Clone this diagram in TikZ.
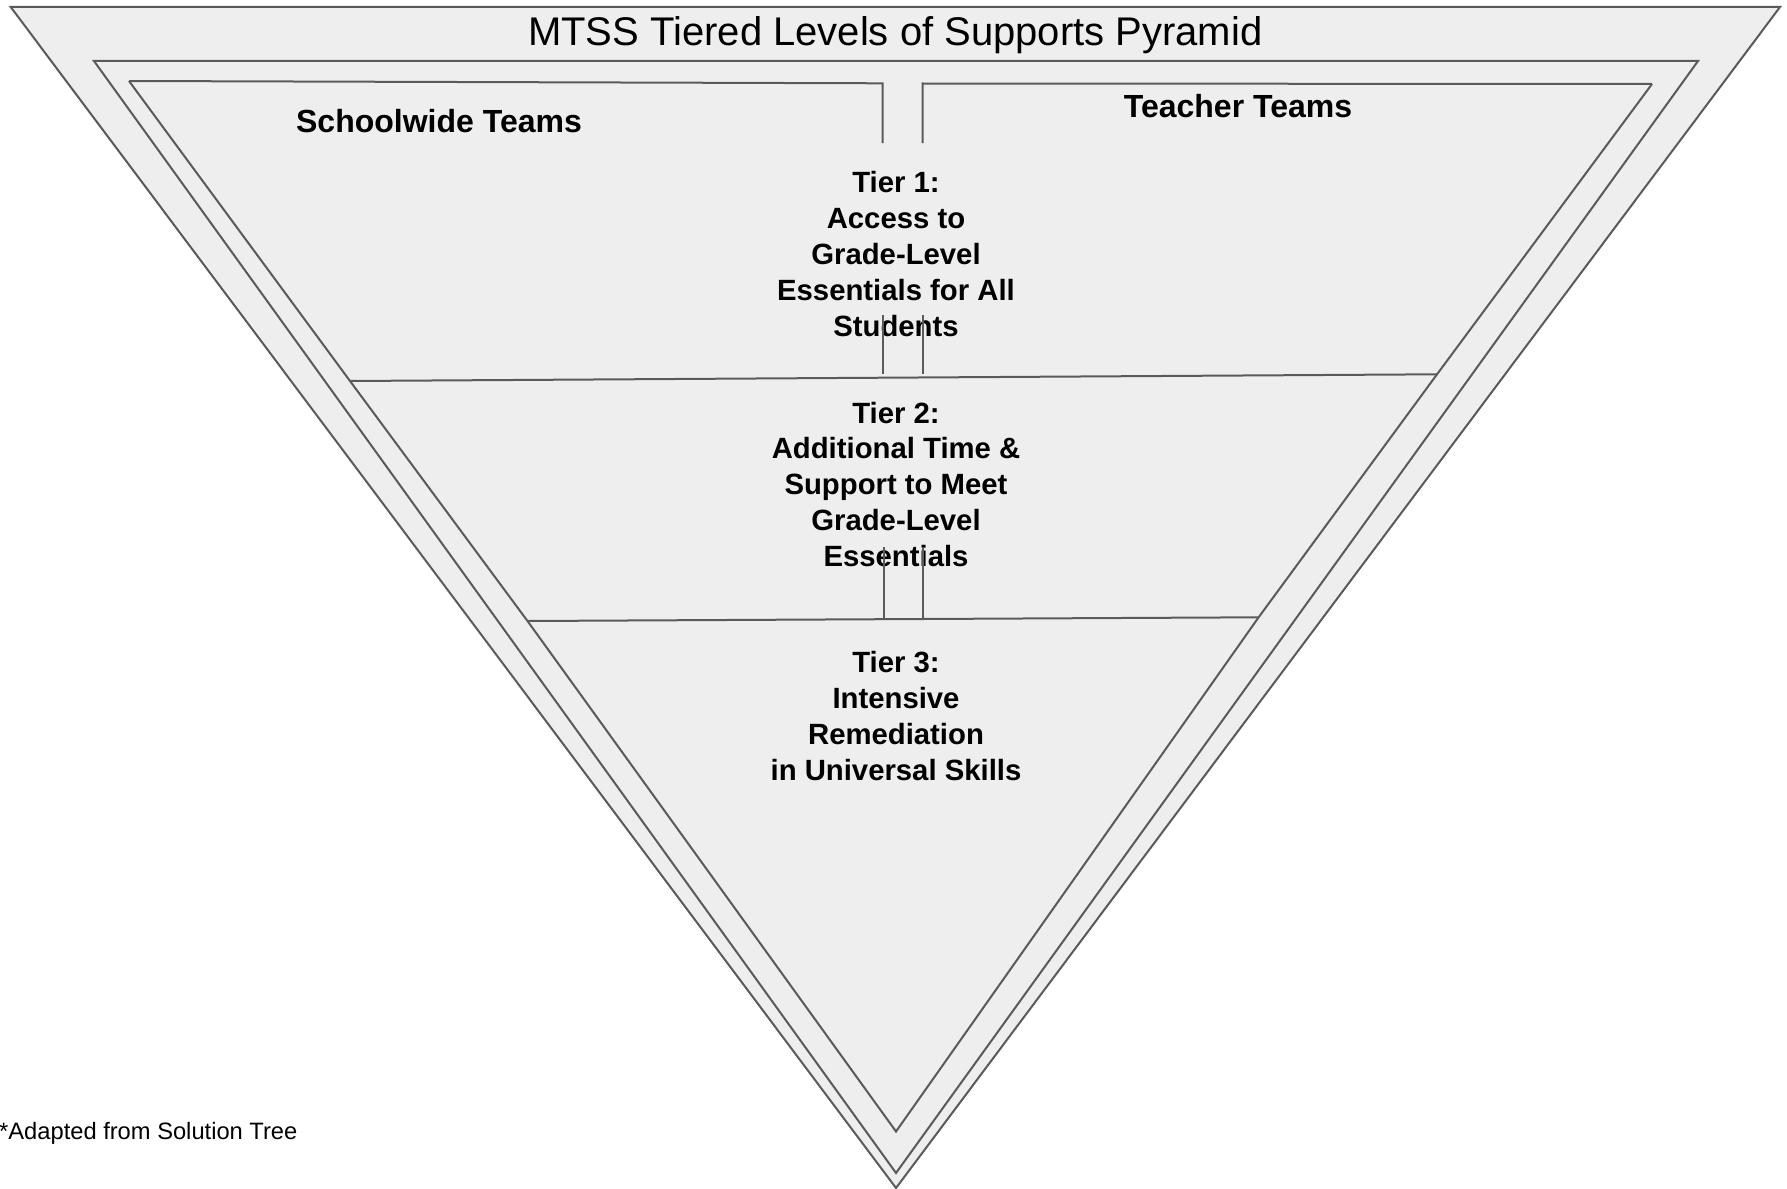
\documentclass[tikz,border=0pt]{standalone}
\usepackage{fontspec}
\setmainfont{Liberation Sans}
\usetikzlibrary{calc}
\definecolor{fillg}{HTML}{EEEEEE}
\definecolor{lineg}{HTML}{5A5A5A}
\begin{document}
\begin{tikzpicture}[x=1pt,y=-1pt,
  edge/.style={draw=lineg,line width=2pt,line join=miter},
  tiertext/.style={align=center,font=\bfseries\fontsize{29.3}{35.9}\selectfont,inner sep=0pt,text=black},
  teamtext/.style={font=\bfseries\fontsize{32}{38}\selectfont,inner sep=0pt,anchor=base,text=black},
]
\useasboundingbox (0,0) rectangle (1787,1188);
% outer and middle triangles
\coordinate (OL) at (10.7,7);
\coordinate (OR) at (1780,7);
\coordinate (OA) at (896,1188);
\coordinate (ML) at (94,61);
\coordinate (MR) at (1698,61);
\coordinate (MA) at (896,1173);
\filldraw[edge,fill=fillg] (OL) -- (OR) -- (OA) -- cycle;
\filldraw[edge,fill=fillg] (ML) -- (MR) -- (MA) -- cycle;
% inner triangle
\coordinate (IL) at (129,81);
\coordinate (IR) at (1652,84);
\coordinate (IA) at (896,1131.5);
\coordinate (CLt) at (882.5,83.3);
\coordinate (CRt) at (922.5,83.5);
\coordinate (T1l) at (350,381);
\coordinate (T1r) at (1437,374.3);
\coordinate (T2l) at (527.5,621);
\coordinate (T2r) at (1258.6,617.3);
\fill[fillg] (IL) -- (CLt) -- (CRt) -- (IR) -- (T1r) -- (T2r) -- (IA) -- (T2l) -- (T1l) -- cycle;
\draw[edge] (IL) -- (T1l) -- (T2l) -- (IA) -- (T2r) -- (T1r) -- (IR);
\draw[edge] (IL) -- (CLt) -- (882.5,143);
\draw[edge] (IR) -- (CRt) -- (922.5,143);
% tier boundaries
\draw[edge] (T1l) -- (T1r);
\draw[edge] (T2l) -- (T2r);
% texts
\node[anchor=base,font=\fontsize{40}{48}\selectfont,inner sep=0pt] (title) at (895.3,45.7) {MTSS Tiered Levels of Supports Pyramid};
\node[teamtext] (schoolwide) at (439,132.3) {Schoolwide Teams};
\node[teamtext] (teacher) at (1238,117.5) {Teacher Teams};
\node[tiertext] (tier1) at (896,254.2) {Tier 1:\\Access to\\Grade-Level\\Essentials for All\\Students};
\node[tiertext] (tier2) at (896,484.4) {Tier 2:\\Additional Time \&\\Support to Meet\\Grade-Level\\Essentials};
\node[tiertext] (tier3) at (896,715.9) {Tier 3:\\Intensive\\Remediation\\in Universal Skills};
\node[anchor=base west,font=\fontsize{23.7}{28}\selectfont,inner sep=0pt] (note) at (-1,1139) {*Adapted from Solution Tree};
% short connector segments between tiers
\draw[edge] (882.8,315) -- (882.8,373.5);
\draw[edge] (922.8,315) -- (922.8,373.5);
\draw[edge] (884,547) -- (884,618.5);
\draw[edge] (923,547) -- (923,618.5);
\end{tikzpicture}
\end{document}
